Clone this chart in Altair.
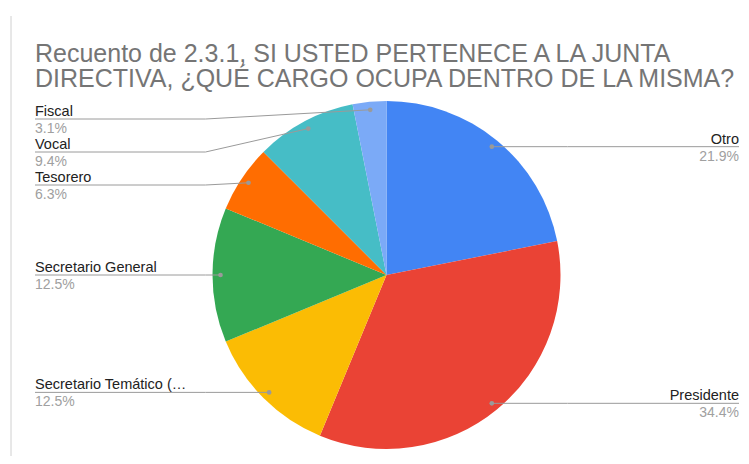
import math
import altair as alt
import pandas as pd

# ---- data ----
categories = ["Otro", "Presidente", "Secretario Temático (…", "Secretario General",
              "Tesorero", "Vocal", "Fiscal"]
counts = [7, 11, 4, 4, 2, 3, 1]
colors = ["#4285F4", "#EA4335", "#FBBC04", "#34A853", "#FF6D01", "#46BDC6", "#7BAAF7"]
title_lines = ["Recuento de 2.3.1, SI USTED PERTENECE A LA JUNTA",
               "DIRECTIVA, ¿QUÉ CARGO OCUPA DENTRO DE LA MISMA?"]

# ---- layout constants ----
W, H = 733, 448
CX, CY, R = 378.5, 267.0, 174.0
DOT_R = 166.0
LEFT_X, RIGHT_X = 27.0, 731.0
KNEE = 7.0
GAP = 33.0
TOP_MIN = 111.0
FONT = "Liberation Sans"

total = sum(counts)
pie = pd.DataFrame({"cat": categories, "n": counts, "idx": list(range(len(categories))),
                    "pct": [c / total for c in counts]})

# label geometry derived from values
cum = 0
entries = []
for cat, n in zip(categories, counts):
    mid = (cum + n / 2) / total * 2 * math.pi
    cum += n
    dx = CX + DOT_R * math.sin(mid)
    dy = CY - DOT_R * math.cos(mid)
    side = "right" if mid < math.pi else "left"
    entries.append(dict(cat=cat, pct=n / total, dx=dx, dy=dy, side=side))

for side in ("left", "right"):
    grp = sorted([e for e in entries if e["side"] == side], key=lambda e: e["dy"])
    prev = None
    for e in grp:
        ly = max(e["dy"], TOP_MIN) if prev is None else max(e["dy"], prev + GAP)
        e["ly"] = ly
        prev = ly

lab_rows, line_rows = [], []
for e in entries:
    if e["side"] == "left":
        tx, kx = LEFT_X, CX - R - KNEE
    else:
        tx, kx = RIGHT_X, CX + R + KNEE
    lab_rows.append(dict(cat=e["cat"], pct=e["pct"], x=tx, y=e["ly"], align=e["side"]))
    for k, (px, py) in enumerate([(tx, e["ly"]), (kx, e["ly"]), (e["dx"], e["dy"])]):
        line_rows.append(dict(cat=e["cat"], k=k, x=px, y=py))
labels = pd.DataFrame(lab_rows)
lines = pd.DataFrame(line_rows)
dots = pd.DataFrame([dict(cat=e["cat"], x=e["dx"], y=e["dy"]) for e in entries])

xs = alt.Scale(domain=[0, W], range=[0, W], nice=False, zero=False)
ys = alt.Scale(domain=[0, H], range=[0, H], nice=False, zero=False)

arc = alt.Chart(pie).mark_arc(outerRadius=R).encode(
    theta=alt.Theta("n:Q", stack=True),
    color=alt.Color("cat:N", scale=alt.Scale(domain=categories, range=colors), legend=None),
    order=alt.Order("idx:Q"),
    x=alt.value(CX), y=alt.value(CY),
)

leader = alt.Chart(lines).mark_line(color="#9a9a9a", strokeWidth=1).encode(
    x=alt.X("x:Q", scale=xs, axis=None),
    y=alt.Y("y:Q", scale=ys, axis=None),
    detail="cat:N",
    order="k:Q",
)

dot = alt.Chart(dots).mark_circle(color="#9a9a9a", opacity=1, size=22).encode(
    x=alt.X("x:Q", scale=xs, axis=None),
    y=alt.Y("y:Q", scale=ys, axis=None),
)

def label_layer(side):
    d = labels[labels["align"] == side]
    base = alt.Chart(d).encode(
        x=alt.X("x:Q", scale=xs, axis=None),
        y=alt.Y("y:Q", scale=ys, axis=None),
    )
    name = base.mark_text(align=side, baseline="alphabetic", dy=-3, font=FONT,
                          fontSize=14.5, color="#222222").encode(text="cat:N")
    pct = base.mark_text(align=side, baseline="alphabetic", dy=14, font=FONT,
                         fontSize=14, color="#a0a0a0").encode(text=alt.Text("pct:Q", format=".1%"))
    return name + pct

title = alt.Chart(pd.DataFrame({"t": [title_lines]})).mark_text(
    align="left", baseline="alphabetic", font=FONT, fontSize=25, color="#757575",
    lineHeight=25,
).encode(text="t", x=alt.value(27), y=alt.value(54))

edge = alt.Chart(pd.DataFrame({"a": [0]})).mark_rule(color="#d0d0d0", strokeWidth=1).encode(
    x=alt.value(3), y=alt.value(8), y2=alt.value(H + 8))

chart = alt.layer(edge, arc, leader, dot, label_layer("left"), label_layer("right"), title).properties(
    width=W, height=H, padding=0, autosize="none",
).configure_view(stroke=None)

chart.save("out.html", embed_options={"renderer": "svg", "actions": False})
